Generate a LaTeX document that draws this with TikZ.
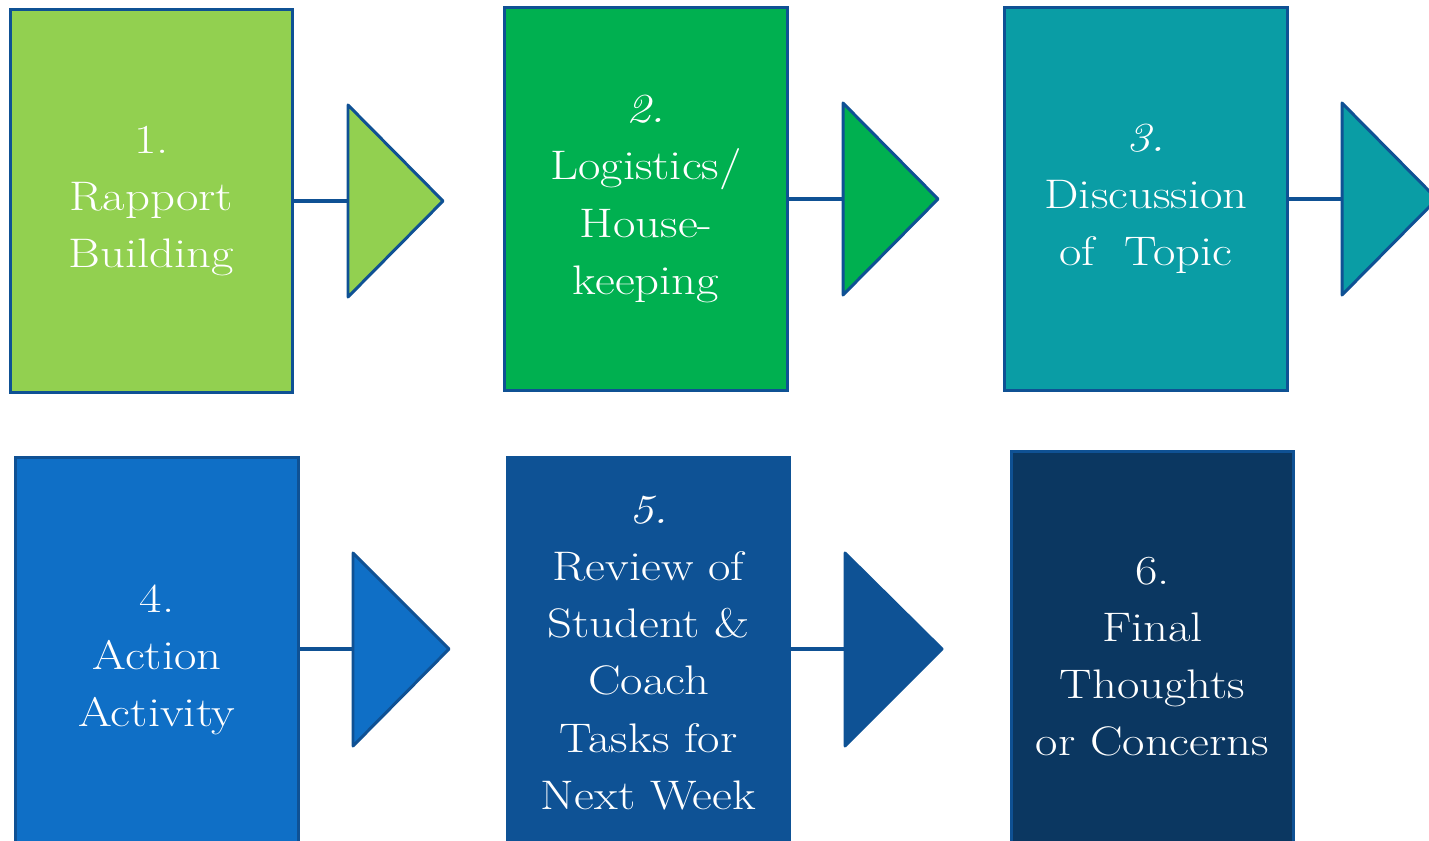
\documentclass[tikz,border=0pt]{standalone}
\usepackage{fontspec}
\usetikzlibrary{positioning}

\newfontfamily\stepfont{lmroman17-regular.otf}[FakeStretch=1.18, ItalicFont=lmroman12-italic.otf]

\definecolor{stepA}{HTML}{92D050}
\definecolor{stepB}{HTML}{00B050}
\definecolor{stepC}{HTML}{0A9DA5}
\definecolor{stepD}{HTML}{0F6FC6}
\definecolor{stepE}{HTML}{0E5295}
\definecolor{stepF}{HTML}{0B3761}
\definecolor{edge}{HTML}{0F5194}

\tikzset{
  box/.style={draw=edge, line width=1.7pt, text=white, align=center,
    minimum width=5.66cm, inner sep=0pt,
    font=\stepfont\fontsize{23.5}{32.5}\selectfont},
  tri/.style={draw=edge, line width=1.7pt, line join=round},
  link/.style={draw=edge, line width=2.3pt}
}

\begin{document}
\begin{tikzpicture}[x=0.02cm, y=-0.02cm]
        \useasboundingbox (0, 0) rectangle (1429, 840);
        \clip (0, 0) rectangle (1429, 840);
        % first row
        \node [box, fill=stepA, minimum height=7.68cm] (b1) at (151.5, 201) {1.\\Rapport\\Building};
        \node [box, fill=stepB, minimum height=7.68cm] (b2) at (646, 199) {\textit{2.}\\Logistics/\\House-\\keeping};
        \node [box, fill=stepC, minimum height=7.68cm] (b3) at (1146, 199) {\textit{3.}\\Discussion\\of~ Topic};
        % second row
        \node [box, fill=stepD, minimum height=8.12cm] (b4) at (157, 660) {4.\\Action\\Activity};
        \node [box, fill=stepE, draw=stepE, minimum height=7.84cm] (b5) at (648.5, 653) {\textit{5.}\\Review of\\Student \&\\Coach\\Tasks for\\Next Week};
        \node [box, fill=stepF, minimum height=8.24cm] (b6) at (1152.5, 657) {6.\\Final\\Thoughts\\or Concerns};
        % arrow bases
        \coordinate (t1) at (348, 201);
        \coordinate (t2) at (843, 199);
        \coordinate (t3) at (1342, 199);
        \coordinate (t4) at (353, 649);
        \coordinate (t5) at (845, 649);
        \draw [link] (t1 -| b1.east) -- (t1);
        \draw [link] (t2 -| b2.east) -- (t2);
        \draw [link] (t3 -| b3.east) -- (t3);
        \draw [link] (t4 -| b4.east) -- (t4);
        \draw [link] (t5 -| b5.east) -- (t5);
        \draw [tri, fill=stepA] (t1) -- ++(0, -96) -- ++(95, 96) -- ++(-95, 96) -- cycle;
        \draw [tri, fill=stepB] (t2) -- ++(0, -96) -- ++(95, 96) -- ++(-95, 96) -- cycle;
        \draw [tri, fill=stepC] (t3) -- ++(0, -96) -- ++(95, 96) -- ++(-95, 96) -- cycle;
        \draw [tri, fill=stepD] (t4) -- ++(0, -96) -- ++(96, 96) -- ++(-96, 97) -- cycle;
        \draw [tri, fill=stepE, draw=stepE] (t5) -- ++(0, -96) -- ++(97, 96) -- ++(-97, 97) -- cycle;
    \end{tikzpicture}
\end{document}
